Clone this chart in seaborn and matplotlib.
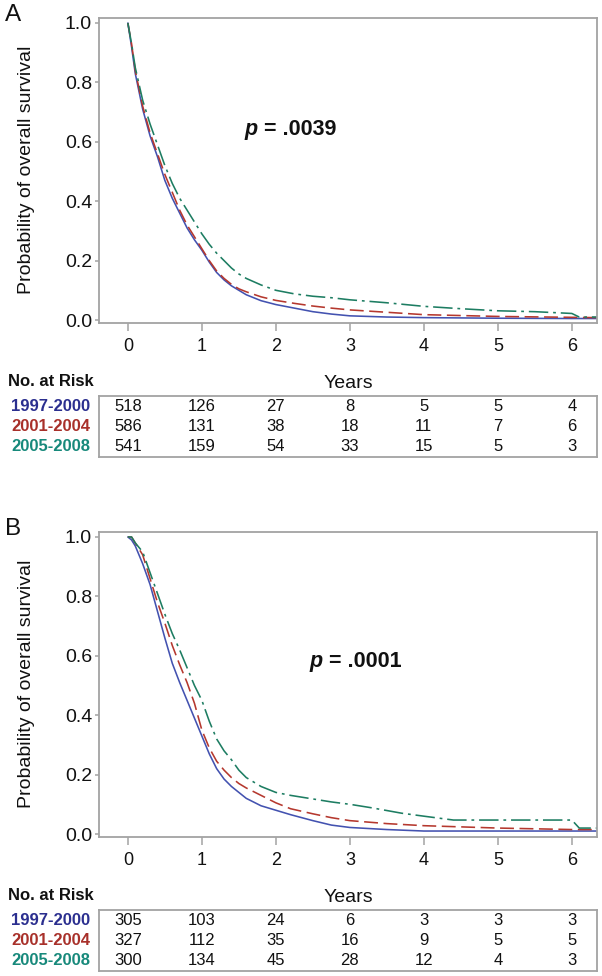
# Kaplan-Meier style overall survival curves with number-at-risk tables (panels A and B).

import pandas as pd
import matplotlib
matplotlib.use('Agg')
from matplotlib import pyplot as plt
from matplotlib import transforms
import seaborn as sns

W, H = 602, 976

PERIODS = ['1997-2000', '2001-2004', '2005-2008']
YEARS = [0, 1, 2, 3, 4, 5, 6]
Y_TICKS = [0.0, 0.2, 0.4, 0.6, 0.8, 1.0]

# ---- panel A curves ----
A_T = [0, 0.05, 0.1, 0.2, 0.3, 0.4, 0.5, 0.6, 0.7, 0.8, 0.9, 1.0, 1.1, 1.2, 1.3, 1.4, 1.5,
       1.6, 1.8, 2.0, 2.25, 2.5, 2.75, 3.0, 3.5, 4.0, 5.0, 6.0, 6.34]
A_1997 = [1.0, 0.92, 0.83, 0.71, 0.62, 0.55, 0.47, 0.41, 0.36, 0.31, 0.27, 0.235, 0.195, 0.16,
          0.135, 0.115, 0.10, 0.085, 0.065, 0.052, 0.04, 0.028, 0.02, 0.014, 0.01, 0.008,
          0.006, 0.005, 0.005]
A_2001 = [1.0, 0.93, 0.84, 0.72, 0.63, 0.56, 0.49, 0.43, 0.37, 0.32, 0.28, 0.24, 0.20, 0.165,
          0.14, 0.12, 0.105, 0.095, 0.078, 0.066, 0.056, 0.047, 0.04, 0.034, 0.026, 0.018,
          0.012, 0.009, 0.008]
A_T_2005 = [0, 0.05, 0.1, 0.2, 0.3, 0.4, 0.5, 0.6, 0.7, 0.8, 0.9, 1.0, 1.1, 1.2, 1.3, 1.4, 1.5,
            1.6, 1.8, 2.0, 2.25, 2.5, 2.75, 3.0, 3.5, 4.0, 4.5, 5.0, 5.5, 6.0, 6.1, 6.34]
A_2005 = [1.0, 0.93, 0.85, 0.74, 0.66, 0.59, 0.52, 0.46, 0.41, 0.37, 0.33, 0.29, 0.255, 0.225,
          0.20, 0.175, 0.155, 0.14, 0.118, 0.10, 0.088, 0.08, 0.075, 0.068, 0.058, 0.046,
          0.038, 0.031, 0.028, 0.022, 0.01, 0.01]

# ---- panel B curves ----
B_T = [0, 0.05, 0.1, 0.2, 0.3, 0.4, 0.5, 0.6, 0.7, 0.8, 0.9, 1.0, 1.1, 1.2, 1.3, 1.4, 1.5,
       1.6, 1.8, 2.0, 2.2, 2.5, 2.75, 3.0, 3.5, 4.0, 5.0, 6.0, 6.34]
B_1997 = [1.0, 0.99, 0.97, 0.91, 0.84, 0.75, 0.66, 0.575, 0.51, 0.45, 0.39, 0.33, 0.27, 0.22,
          0.185, 0.16, 0.14, 0.12, 0.095, 0.08, 0.065, 0.045, 0.03, 0.022, 0.015, 0.01,
          0.01, 0.01, 0.01]
B_2001 = [1.0, 1.0, 0.98, 0.94, 0.86, 0.78, 0.71, 0.635, 0.57, 0.51, 0.44, 0.35, 0.29, 0.245,
          0.215, 0.19, 0.17, 0.155, 0.13, 0.105, 0.085, 0.068, 0.055, 0.045, 0.035, 0.028,
          0.02, 0.015, 0.015]
B_T_2005 = [0, 0.05, 0.1, 0.2, 0.3, 0.4, 0.5, 0.6, 0.7, 0.8, 0.9, 1.0, 1.1, 1.2, 1.3, 1.4, 1.5,
            1.6, 1.8, 2.0, 2.2, 2.5, 2.75, 3.0, 3.3, 3.7, 4.0, 4.4, 5.0, 6.0, 6.1, 6.34]
B_2005 = [1.0, 1.0, 0.98, 0.95, 0.88, 0.81, 0.74, 0.675, 0.62, 0.56, 0.50, 0.45, 0.38, 0.32,
          0.28, 0.25, 0.215, 0.19, 0.16, 0.14, 0.13, 0.118, 0.108, 0.10, 0.088, 0.07, 0.06,
          0.047, 0.047, 0.047, 0.02, 0.02]

# ---- number at risk ----
RISK_A = [[518, 126, 27, 8, 5, 5, 4],
          [586, 131, 38, 18, 11, 7, 6],
          [541, 159, 54, 33, 15, 5, 3]]
RISK_B = [[305, 103, 24, 6, 3, 3, 3],
          [327, 112, 35, 16, 9, 5, 5],
          [300, 134, 45, 28, 12, 4, 3]]

LINE_COLORS = {'1997-2000': '#4352b0', '2001-2004': '#b5382e', '2005-2008': '#1d7d62'}
LABEL_COLORS = ['#2b2f8f', '#a8302a', '#17897b']
DASHES = {'1997-2000': '', '2001-2004': (10, 4), '2005-2008': (14, 3.5, 2, 3.5)}
FRAME = '#a3a3a3'

sns.set_theme(style='white')
plt.rcParams['font.family'] = ['Liberation Sans', 'DejaVu Sans']
plt.rcParams['lines.scale_dashes'] = False
plt.rcParams['text.color'] = '#111111'


def fx(px):
    return px / W


def fy(py):
    return 1 - py / H


def draw_panel(fig, top, letter, curves, risk, p_label, p_xy):
    # top = pixel row of the plot frame's top edge
    left, right = 99, 597
    ax = fig.add_axes([fx(left), fy(top + 305), (right - left) / W, 305 / H])

    df = pd.concat([pd.DataFrame({'time': t, 'survival': s, 'period': name})
                    for name, (t, s) in zip(PERIODS, curves)], ignore_index=True)
    sns.lineplot(data=df, x='time', y='survival', hue='period', style='period',
                 hue_order=PERIODS, style_order=PERIODS, palette=LINE_COLORS,
                 dashes=DASHES, estimator=None, lw=1.15, legend=False, ax=ax)

    ax.set_xlim(-0.39, 6.34)
    ax.set_ylim(-0.0101, 1.0168)
    ax.set_xticks(YEARS)
    ax.set_yticks(Y_TICKS)
    ax.set_yticklabels([f'{v:.1f}' for v in Y_TICKS])
    ax.set_xlabel('')
    ax.set_ylabel('')
    for s in ax.spines.values():
        s.set_visible(True)
        s.set_color(FRAME)
        s.set_linewidth(1.3)
    ax.tick_params(axis='x', bottom=True, direction='out', length=6, width=1.1,
                   color=FRAME, pad=5, labelsize=13, labelcolor='#111111')
    ax.tick_params(axis='y', left=True, direction='out', length=3, width=1.1,
                   color=FRAME, pad=2, labelsize=14, labelcolor='#111111')

    # p-value, italic bold p followed by bold value
    ax.text(p_xy[0], p_xy[1], 'p', fontsize=15.5, fontweight='bold', fontstyle='italic',
            ha='left', va='center')
    offs = transforms.offset_copy(ax.transData, fig=fig, x=14, y=0, units='points')
    ax.text(p_xy[0], p_xy[1], p_label, fontsize=15.5, fontweight='bold',
            ha='left', va='center', transform=offs)

    fig.text(fx(13), fy(top - 3), letter, ha='center', va='center', fontsize=17.5)
    fig.text(fx(27), fy(top + 152), 'Probability of overall survival', rotation=90,
             ha='center', va='center', fontsize=14)
    fig.text(fx((left + right) / 2), fy(top + 365), 'Years', ha='center', va='center',
             fontsize=14)
    fig.text(fx(94), fy(top + 364), 'No. at Risk', ha='right', va='center',
             fontsize=12, fontweight='bold')

    # number-at-risk table sharing the year positions
    tax = fig.add_axes([fx(left), fy(top + 439), (right - left) / W, 61 / H])
    tax.set_xlim(ax.get_xlim())
    tax.set_ylim(3, 0)
    tax.set_xticks([])
    tax.set_yticks([])
    for s in tax.spines.values():
        s.set_visible(True)
        s.set_color(FRAME)
        s.set_linewidth(1.3)
    blend = transforms.blended_transform_factory(tax.transAxes, tax.transData)
    for i, (name, row) in enumerate(zip(PERIODS, risk)):
        tax.text(-0.018, i + 0.5, name, transform=blend, ha='right', va='center',
                 fontsize=12, fontweight='bold', color=LABEL_COLORS[i])
        for yr, n in zip(YEARS, row):
            tax.text(yr, i + 0.5, str(n), ha='center', va='center', fontsize=12)
    return ax


fig = plt.figure(figsize=(W / 100, H / 100), dpi=100)

draw_panel(fig, 18, 'A',
           [(A_T, A_1997), (A_T, A_2001), (A_T_2005, A_2005)],
           RISK_A, '= .0039', (1.58, 0.64))
draw_panel(fig, 532, 'B',
           [(B_T, B_1997), (B_T, B_2001), (B_T_2005, B_2005)],
           RISK_B, '= .0001', (2.45, 0.58))

fig.savefig('out.png', dpi=100)
plt.close(fig)
